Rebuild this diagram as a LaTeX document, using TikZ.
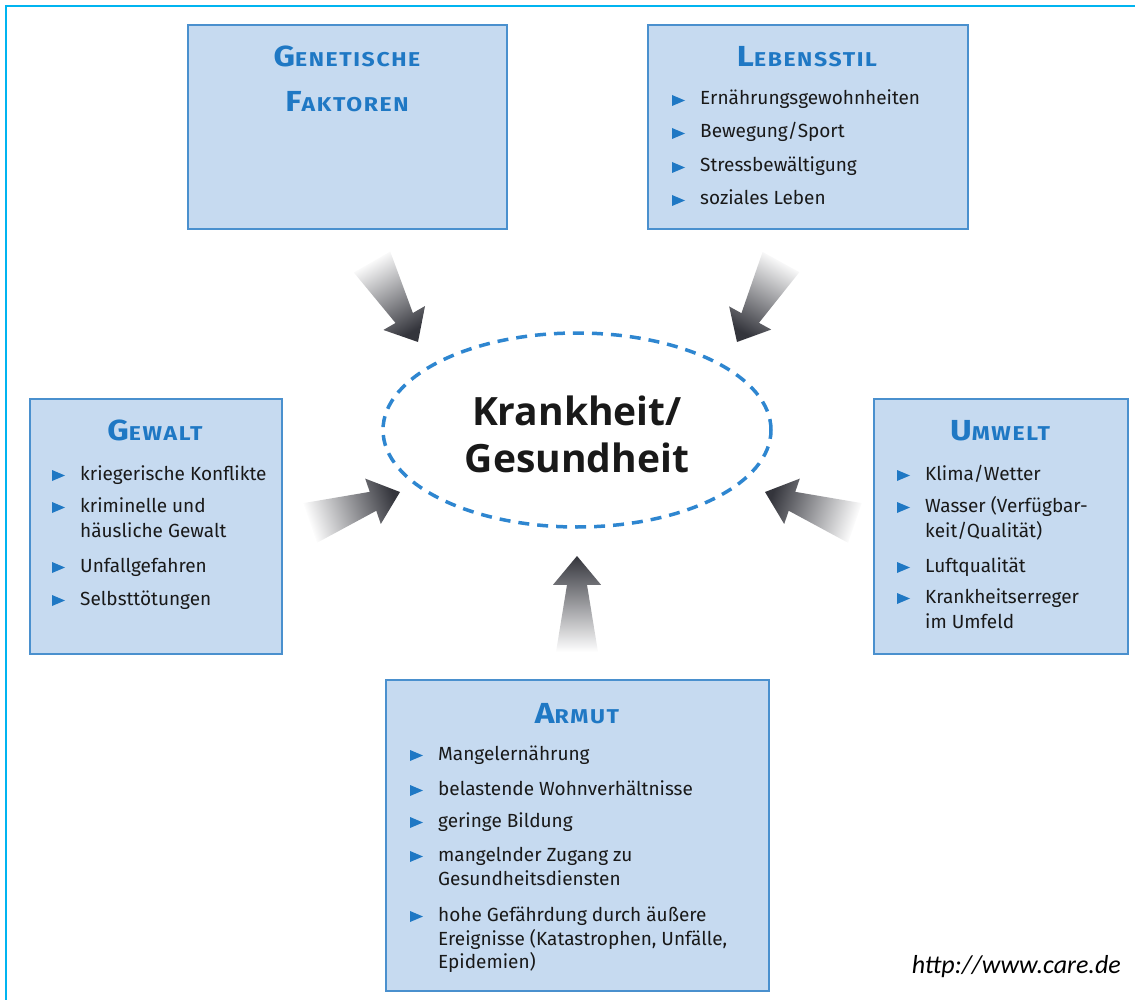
\documentclass[tikz,border=0pt]{standalone}
\usepackage{fontspec}
\setmainfont{Fira Sans}
\newfontfamily\urlfont{Carlito}
\newfontfamily\kgfont{Open Sans}
\newfontfamily\headfont[FakeStretch=1.15,LetterSpace=8]{Fira Sans}
\usetikzlibrary{calc,shapes.geometric}
\definecolor{framecol}{RGB}{0,180,240}
\definecolor{boxfill}{RGB}{198,218,240}
\definecolor{boxline}{RGB}{74,144,206}
\definecolor{headblue}{RGB}{31,120,196}
\definecolor{dashblue}{RGB}{46,134,208}
\definecolor{arrowdark}{RGB}{52,53,60}
\definecolor{itemtext}{RGB}{25,25,25}
\newcommand\hsc[2]{#1{\fontsize{20}{20}\selectfont #2}}
\newcommand\garrow[3]{%
  \shade[bottom color=white, top color=arrowdark, shading angle=#3]
    ($(#1)!21pt!90:(#2)$) -- ($(#1)!0.70!(#2)!10pt!90:(#2)$) --
    ($(#1)!0.70!(#2)!24pt!90:(#2)$) -- (#2) --
    ($(#1)!0.70!(#2)!24pt!-90:(#2)$) -- ($(#1)!0.70!(#2)!10pt!-90:(#2)$) --
    ($(#1)!21pt!-90:(#2)$) -- cycle;}
\newcommand\bul[1]{\fill[headblue] ($(#1.base west)+(-28,1)$) -- ++(0,-11) -- ++(13,5.5) -- cycle;}
\tikzset{
  box/.style={draw=boxline, line width=2.2pt, fill=boxfill, anchor=north west, inner sep=0pt},
  head/.style={font=\headfont\fontsize{29}{29}\selectfont\bfseries, text=headblue, anchor=base, inner sep=0pt},
  item/.style={font=\fontsize{19}{24}\selectfont, text=itemtext, anchor=base west, inner sep=0pt},
  kgtext/.style={font=\kgfont\fontsize{39}{46}\selectfont\bfseries, text=black!90, anchor=base, inner sep=0pt},
  kgell/.style={draw=dashblue, ellipse, line width=3.5pt, dash pattern=on 11pt off 8pt, inner sep=0pt}
}
\begin{document}
\begin{tikzpicture}[x=1pt,y=-1pt]
\useasboundingbox (0,0) rectangle (1135,1000);
% frame
\draw[framecol, line width=2.2pt] (6,1000) -- (6,6) -- (1135,6);

% boxes
\node[box, minimum width=319, minimum height=204] (gen) at (187,24) {};
\node[box, minimum width=320, minimum height=204] (leb) at (647,24) {};
\node[box, minimum width=252, minimum height=255] (gew) at (29,398) {};
\node[box, minimum width=254, minimum height=255] (umw) at (873,398) {};
\node[box, minimum width=383, minimum height=311] (arm) at (385,679) {};

% Genetische Faktoren
\node[head] (genh1) at (347,67) {\hsc{G}{ENETISCHE}};
\node[head] (genh2) at (347,112) {\hsc{F}{AKTOREN}};

% Lebensstil
\node[head] (lebh) at (807,67) {\hsc{L}{EBENSSTIL}};
\node[item] (leb1) at (700,105) {Ernährungsgewohnheiten};
\node[item] (leb2) at (700,138) {Bewegung/Sport};
\node[item] (leb3) at (700,172) {Stressbewältigung};
\node[item] (leb4) at (700,205) {soziales Leben};
\bul{leb1}\bul{leb2}\bul{leb3}\bul{leb4}

% Gewalt
\node[head] (gewh) at (155,440) {\hsc{G}{EWALT}};
\node[item] (gew1) at (80,480) {kriegerische Konflikte};
\node[item] (gew2) at (80,512) {kriminelle und};
\node[item] (gew2b) at (80,537) {häusliche Gewalt};
\node[item] (gew3) at (80,572) {Unfallgefahren};
\node[item] (gew4) at (80,605) {Selbsttötungen};
\bul{gew1}\bul{gew2}\bul{gew3}\bul{gew4}

% Umwelt
\node[head] (umwh) at (1000,440) {\hsc{U}{MWELT}};
\node[item] (umw1) at (925,480) {Klima/Wetter};
\node[item] (umw2) at (925,512) {Wasser (Verfügbar-};
\node[item] (umw2b) at (925,537) {keit/Qualität)};
\node[item] (umw3) at (925,572) {Luftqualität};
\node[item] (umw4) at (925,603) {Krankheitserreger};
\node[item] (umw4b) at (925,628) {im Umfeld};
\bul{umw1}\bul{umw2}\bul{umw3}\bul{umw4}

% Armut
\node[head] (armh) at (577,723) {\hsc{A}{RMUT}};
\node[item] (arm1) at (438,760) {Mangelernährung};
\node[item] (arm2) at (438,795) {belastende Wohnverhältnisse};
\node[item] (arm3) at (438,827) {geringe Bildung};
\node[item] (arm4) at (438,861) {mangelnder Zugang zu};
\node[item] (arm4b) at (438,885) {Gesundheitsdiensten};
\node[item] (arm5) at (438,921) {hohe Gefährdung durch äußere};
\node[item] (arm5b) at (438,945) {Ereignisse (Katastrophen, Unfälle,};
\node[item] (arm5c) at (438,968) {Epidemien)};
\bul{arm1}\bul{arm2}\bul{arm3}\bul{arm4}\bul{arm5}

% centre
\node[kgell, minimum width=388, minimum height=194] (kg) at (577,430) {};
\node[kgtext] (kg1) at (577,425) {Krankheit/};
\node[kgtext] (kg2) at (577,472) {Gesundheit};

% arrows
\coordinate (tlT) at (372,262); \coordinate (tlH) at (418,342);
\coordinate (trT) at (781,262); \coordinate (trH) at (737,342);
\coordinate (lT) at (310,523);  \coordinate (lH) at (400,492);
\coordinate (rT) at (855,523);  \coordinate (rH) at (765,492);
\coordinate (bT) at (577,652);  \coordinate (bH) at (577,556);
\garrow{tlT}{tlH}{-150}
\garrow{trT}{trH}{-209}
\garrow{lT}{lH}{-71}
\garrow{rT}{rH}{71}
\garrow{bT}{bH}{0}

% source
\node[font=\urlfont\itshape\fontsize{26}{26}\selectfont, anchor=base east, inner sep=0pt] (src) at (1121,973) {http://www.care.de};
\end{tikzpicture}
\end{document}
